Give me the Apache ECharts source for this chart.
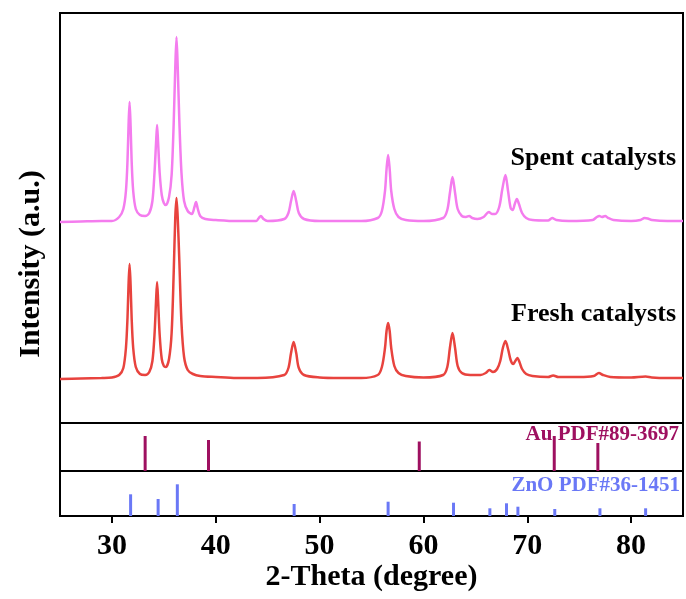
<!DOCTYPE html>
<html>
<head>
<meta charset="utf-8">
<script src="https://cdn.jsdelivr.net/npm/echarts@6/dist/echarts.min.js"></script>
<style>
html,body{margin:0;padding:0;background:#fff;}
#chart{width:686px;height:599px;}
</style>
</head>
<body>
<div id="chart"></div>
<script>
// ---- data ----
var xTicks = [30, 40, 50, 60, 70, 80];

var spentTheta = [25, 27, 29, 30.0, 30.7, 31.1, 31.35, 31.5, 31.6, 31.7, 31.8, 31.9, 32.05, 32.3, 32.7, 33.2, 33.6, 33.9, 34.1, 34.25, 34.35, 34.45, 34.6, 34.8, 35.0, 35.2, 35.5, 35.75, 35.95, 36.1, 36.22, 36.34, 36.5, 36.7, 36.95, 37.3, 37.7, 37.95, 38.1, 38.25, 38.5, 39.0, 40, 42, 43.9, 44.15, 44.35, 44.6, 45, 46.6, 47.0, 47.25, 47.5, 47.75, 48.0, 48.5, 50, 52, 54, 55.6, 56.0, 56.3, 56.45, 56.6, 56.75, 56.9, 57.2, 57.6, 58.3, 60, 61.9, 62.3, 62.55, 62.8, 63.05, 63.3, 63.7, 64.1, 64.4, 64.7, 65.2, 65.8, 66.3, 66.6, 66.9, 67.3, 67.6, 67.9, 68.15, 68.4, 68.6, 68.8, 69.0, 69.2, 69.5, 69.9, 70.5, 72.0, 72.4, 72.8, 74, 76.3, 76.7, 76.95, 77.2, 77.5, 77.8, 78.3, 80, 80.9, 81.3, 81.6, 82, 83.5, 85];
var spentI = [201, 201.5, 202, 202, 206, 214, 232, 262, 297, 321, 297, 262, 232, 214, 208, 207, 210, 222, 250, 280, 298, 280, 250, 228, 220, 218, 226, 248, 300, 355, 386, 355, 300, 250, 222, 212, 209, 216, 221, 215, 207, 204, 203, 202, 202, 205, 207, 204, 202, 204, 210, 222, 232, 222, 210, 204, 202, 202, 202, 205, 212, 232, 254, 268, 254, 232, 214, 206, 203, 202, 205, 213, 230, 246, 230, 214, 207, 206, 207, 205, 204, 206, 211, 209, 209, 216, 234, 248, 232, 215, 213, 219, 224, 219, 210, 205, 203, 202.5, 205, 203, 202, 203, 206, 207, 206, 207, 205, 203, 202, 203, 205, 204.5, 203, 202, 202];

var freshTheta = [25, 27, 29, 30.0, 30.7, 31.1, 31.35, 31.5, 31.6, 31.7, 31.8, 31.9, 32.05, 32.3, 32.7, 33.2, 33.6, 33.9, 34.1, 34.25, 34.35, 34.45, 34.6, 34.8, 35.0, 35.2, 35.5, 35.75, 35.95, 36.1, 36.22, 36.34, 36.5, 36.7, 36.95, 37.3, 37.8, 38.5, 40, 42, 44, 46.6, 47.0, 47.25, 47.5, 47.75, 48.0, 48.5, 50, 52, 54, 55.6, 56.0, 56.3, 56.45, 56.6, 56.75, 56.9, 57.2, 57.6, 58.3, 60, 61.9, 62.3, 62.55, 62.8, 63.05, 63.3, 63.7, 64.5, 65.5, 66.0, 66.35, 66.7, 67.1, 67.4, 67.65, 67.9, 68.15, 68.4, 68.65, 68.85, 69.05, 69.25, 69.5, 69.9, 70.5, 72.0, 72.5, 73.0, 75, 76.4, 76.9, 77.3, 78.0, 80, 81.4, 82, 83.5, 85];
var freshI = [44, 44.5, 45, 45.5, 48, 55, 75, 105, 138, 159, 138, 105, 75, 56, 49, 48, 51, 62, 88, 122, 141, 122, 88, 64, 57, 56, 64, 90, 150, 205, 225, 205, 160, 100, 66, 53, 49, 47, 46, 45, 45, 48, 55, 70, 81, 70, 55, 48, 45.5, 45, 45, 48, 56, 75, 92, 100, 92, 75, 57, 50, 47, 45.5, 48, 56, 75, 90, 75, 57, 50, 48, 48, 50, 53, 51, 54, 62, 75, 82, 74, 63, 59, 62, 65, 61, 54, 49, 47, 46, 47.5, 46, 46, 47, 50, 48, 46, 45.5, 46.5, 45.5, 45, 45];

var auTheta = [33.2, 39.3, 59.6, 72.6, 76.8];
var auI = [35, 31, 29.5, 35, 28];

var znoTheta = [31.8, 34.45, 36.3, 47.55, 56.6, 62.9, 66.4, 68.0, 69.1, 72.65, 77.0, 81.4];
var znoI = [21.7, 17, 31.7, 12, 14.3, 13.3, 7.7, 12.7, 9.3, 7, 7.7, 7.7];

// ---- chart ----
function zip(a, b) { return a.map(function (v, i) { return [v, b[i]]; }); }

var FONT = '"Liberation Serif", "Times New Roman", serif';
var L = 60, R = 3;

var chart = echarts.init(document.getElementById('chart'), null, {renderer: 'canvas'});

var hiddenX = function (gi) {
  return {type: 'value', gridIndex: gi, min: 25, max: 85, show: false};
};

chart.setOption({
  animation: false,
  backgroundColor: '#fff',
  grid: [
    {left: L, right: R, top: 13, height: 410, show: true, borderColor: '#000', borderWidth: 2, backgroundColor: 'transparent'},
    {left: L, right: R, top: 423, height: 48, show: true, borderColor: '#000', borderWidth: 2, backgroundColor: 'transparent'},
    {left: L, right: R, top: 471, height: 45, show: true, borderColor: '#000', borderWidth: 2, backgroundColor: 'transparent'}
  ],
  xAxis: [
    hiddenX(0),
    hiddenX(1),
    {
      type: 'value', gridIndex: 2, min: 25, max: 85,
      axisLine: {show: true, lineStyle: {color: '#000', width: 2}},
      axisTick: {show: true, inside: false, length: 7, lineStyle: {color: '#000', width: 2}, customValues: xTicks},
      axisLabel: {show: true, customValues: xTicks, margin: 15, color: '#000', fontFamily: FONT, fontWeight: 'bold', fontSize: 30},
      splitLine: {show: false},
      name: '2-Theta (degree)', nameLocation: 'middle', nameGap: 46,
      nameTextStyle: {color: '#000', fontFamily: FONT, fontWeight: 'bold', fontSize: 30}
    }
  ],
  yAxis: [
    {type: 'value', gridIndex: 0, min: 0, max: 410, show: false},
    {type: 'value', gridIndex: 1, min: 0, max: 48, show: false},
    {type: 'value', gridIndex: 2, min: 0, max: 45, show: false}
  ],
  series: [
    {
      name: 'Spent catalysts', type: 'line', xAxisIndex: 0, yAxisIndex: 0,
      data: zip(spentTheta, spentI), showSymbol: false, symbol: 'none',
      smooth: 0.3,
      lineStyle: {color: '#F47CEE', width: 2.5}, z: 3
    },
    {
      name: 'Fresh catalysts', type: 'line', xAxisIndex: 0, yAxisIndex: 0,
      data: zip(freshTheta, freshI), showSymbol: false, symbol: 'none',
      smooth: 0.3,
      lineStyle: {color: '#E8433E', width: 2.5}, z: 4
    },
    {
      name: 'Au PDF#89-3697', type: 'bar', xAxisIndex: 1, yAxisIndex: 1,
      data: zip(auTheta, auI), barWidth: 3, itemStyle: {color: '#9E1060'}
    },
    {
      name: 'ZnO PDF#36-1451', type: 'bar', xAxisIndex: 2, yAxisIndex: 2,
      data: zip(znoTheta, znoI), barWidth: 3, itemStyle: {color: '#6A78F6'}
    }
  ],
  graphic: [
    {type: 'text', x: 676, y: 158, z: 10,
     style: {text: 'Spent catalysts', fill: '#000', font: 'bold 26px ' + FONT, textAlign: 'right', textVerticalAlign: 'middle'}},
    {type: 'text', x: 676, y: 314, z: 10,
     style: {text: 'Fresh catalysts', fill: '#000', font: 'bold 26px ' + FONT, textAlign: 'right', textVerticalAlign: 'middle'}},
    {type: 'text', x: 679, y: 435, z: 10,
     style: {text: 'Au PDF#89-3697', fill: '#9E1060', font: 'bold 21px ' + FONT, textAlign: 'right', textVerticalAlign: 'middle'}},
    {type: 'text', x: 680, y: 486, z: 10,
     style: {text: 'ZnO PDF#36-1451', fill: '#6A78F6', font: 'bold 21px ' + FONT, textAlign: 'right', textVerticalAlign: 'middle'}},
    {type: 'text', x: 31, y: 264, rotation: Math.PI / 2, z: 10,
     style: {text: 'Intensity (a.u.)', fill: '#000', font: 'bold 30px ' + FONT, textAlign: 'center', textVerticalAlign: 'middle'}}
  ]
});
</script>
</body>
</html>
